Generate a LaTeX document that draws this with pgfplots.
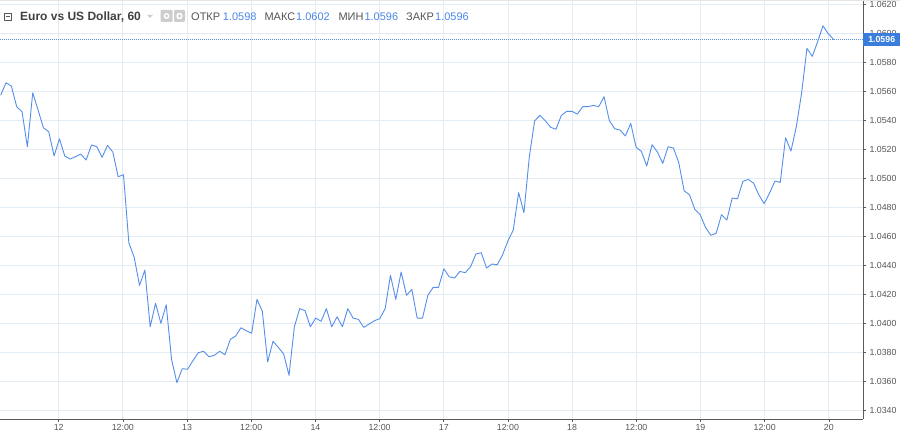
\documentclass[border=0pt]{standalone}
\usepackage{fontspec}
\setmainfont{Liberation Sans}
\usepackage{pgfplots}
\pgfplotsset{compat=1.18}
\usepackage{pgfplotstable}
\definecolor{lineblue}{RGB}{84,142,234}
\definecolor{gridc}{RGB}{228,236,243}
\definecolor{axc}{RGB}{90,90,90}
\definecolor{lblc}{RGB}{85,85,85}
\definecolor{titlec}{RGB}{64,64,64}
\definecolor{valblue}{RGB}{74,134,232}
\definecolor{dotblue}{RGB}{90,140,225}
\definecolor{boxblue}{RGB}{59,125,221}
\definecolor{iconc}{RGB}{205,205,205}

\pgfplotstableread{
i p
0 1.05577
1 1.05662
2 1.05639
3 1.05497
4 1.05462
5 1.05221
6 1.05593
7 1.05474
8 1.05352
9 1.05324
10 1.05157
11 1.05276
12 1.05157
13 1.05136
14 1.05152
15 1.05170
16 1.05129
17 1.05233
18 1.05221
19 1.05148
20 1.05230
21 1.05184
22 1.05014
23 1.05028
24 1.04559
25 1.04458
26 1.04265
27 1.04370
28 1.03979
29 1.04141
30 1.04003
31 1.04131
32 1.03755
33 1.03593
34 1.03690
35 1.03686
36 1.03745
37 1.03800
38 1.03810
39 1.03772
40 1.03782
41 1.03810
42 1.03786
43 1.03892
44 1.03915
45 1.03972
46 1.03952
47 1.03934
48 1.04168
49 1.04086
50 1.03736
51 1.03879
52 1.03837
53 1.03791
54 1.03644
55 1.03979
56 1.04104
57 1.04090
58 1.03979
59 1.04039
60 1.04017
61 1.04104
62 1.03979
63 1.04048
64 1.03979
65 1.04104
66 1.04039
67 1.04030
68 1.03975
69 1.03998
70 1.04021
71 1.04035
72 1.04104
73 1.04334
74 1.04168
75 1.04357
76 1.04196
77 1.04237
78 1.04039
79 1.04039
80 1.04196
81 1.04251
82 1.04251
83 1.04379
84 1.04324
85 1.04315
86 1.04361
87 1.04352
88 1.04393
89 1.04481
90 1.04490
91 1.04384
92 1.04412
93 1.04407
94 1.04476
95 1.04572
96 1.04646
97 1.04904
98 1.04766
99 1.05150
100 1.05400
101 1.05437
102 1.05400
103 1.05355
104 1.05341
105 1.05437
106 1.05465
107 1.05465
108 1.05446
109 1.05497
110 1.05497
111 1.05506
112 1.05497
113 1.05566
114 1.05400
115 1.05345
116 1.05336
117 1.05295
118 1.05382
119 1.05217
120 1.05189
121 1.05088
122 1.05235
123 1.05184
124 1.05106
125 1.05221
126 1.05212
127 1.05110
128 1.04917
129 1.04890
130 1.04789
131 1.04752
132 1.04665
133 1.04610
134 1.04624
135 1.04752
136 1.04715
137 1.04867
138 1.04862
139 1.04982
140 1.04995
141 1.04970
142 1.04888
143 1.04828
144 1.04901
145 1.04984
146 1.04975
147 1.05283
148 1.05191
149 1.05357
150 1.05591
151 1.05899
152 1.05844
153 1.05945
154 1.06055
155 1.06000
156 1.05960
}\eurusd

\begin{document}
\begin{tikzpicture}
\path[use as bounding box] (0pt,-16pt) rectangle (900pt,419pt);
\begin{axis}[
  at={(0pt,0pt)}, anchor=south west,
  scale only axis, width=863pt, height=419pt,
  xmin=-0.13, xmax=161.5, ymin=1.03343, ymax=1.06233,
  clip=false,
  axis x line*=bottom, axis y line*=right,
  axis line style={axc, line width=0.8pt},
  xtick={10.86,22.88,34.9,46.92,58.94,70.96,82.98,95.0,107.02,119.04,131.06,143.08,155.1},
  xticklabels={12,12:00,13,12:00,14,12:00,17,12:00,18,12:00,19,12:00,20},
  ytick={1.034,1.036,1.038,1.040,1.042,1.044,1.046,1.048,1.050,1.052,1.054,1.056,1.058,1.060,1.062},
  yticklabel style={/pgf/number format/.cd, fixed, fixed zerofill, precision=4},
  /pgf/number format/assume math mode=true,
  scaled y ticks=false,
  tick align=outside,
  major tick length=3pt,
  tick style={axc, line width=0.6pt},
  grid=major,
  major grid style={gridc, line width=0.8pt},
  ticklabel style={font=\fontsize{8.8}{10}\selectfont, text=lblc},
  xticklabel style={yshift=1pt},
]
\addplot[dotblue, dash pattern=on 0.8pt off 1.2pt, line width=0.7pt] coordinates {(-0.13,1.0596) (161.5,1.0596)};
\addplot[lineblue, line width=0.9pt, mark=none, line join=round] table[x=i, y=p] {\eurusd};
\coordinate (lastp) at (axis cs:161.5,1.0596);
\end{axis}
% current-price label over the axis
\node[fill=boxblue, text=white, font=\bfseries\fontsize{8.8}{10}\selectfont, anchor=west,
      minimum width=37pt, minimum height=12.5pt, inner sep=0pt] at (lastp) {1.0596};
% top border
\draw[gray!20, line width=1.2pt] (0pt,418.6pt) -- (900pt,418.6pt);
% header
\draw[axc, line width=0.7pt] (4pt,399pt) rectangle (11pt,406pt);
\draw[axc, line width=0.7pt] (5.5pt,402.5pt) -- (9.5pt,402.5pt);
\node[anchor=base west, inner sep=0pt, font=\bfseries\fontsize{12}{14}\selectfont, text=titlec] at (20pt,398.5pt) {Euro vs US Dollar, 60};
\fill[iconc] (147pt,404pt) -- (153pt,404pt) -- (150pt,401pt) -- cycle;
\fill[iconc, rounded corners=1pt] (160.5pt,397pt) rectangle (172.5pt,409pt);
\fill[white] (166.5pt,403pt) circle (3pt);
\fill[iconc] (166.5pt,403pt) circle (1.5pt);
\fill[iconc, rounded corners=1pt] (174pt,397pt) rectangle (185pt,409pt);
\fill[white] (179.5pt,403pt) circle (3.2pt);
\fill[iconc] (179.5pt,403pt) circle (1.6pt);
\begin{scope}[every node/.style={anchor=base west, inner sep=0pt, font=\fontsize{11}{13}\selectfont}]
\node[text=lblc] at (191pt,398.5pt) {ОТКР};
\node[text=valblue] at (222.7pt,398.5pt) {1.0598};
\node[text=lblc] at (264.3pt,398.5pt) {МАКС};
\node[text=valblue] at (296pt,398.5pt) {1.0602};
\node[text=lblc] at (338.3pt,398.5pt) {МИН};
\node[text=valblue] at (364.3pt,398.5pt) {1.0596};
\node[text=lblc] at (406pt,398.5pt) {ЗАКР};
\node[text=valblue] at (435pt,398.5pt) {1.0596};
\end{scope}
\end{tikzpicture}
\end{document}
